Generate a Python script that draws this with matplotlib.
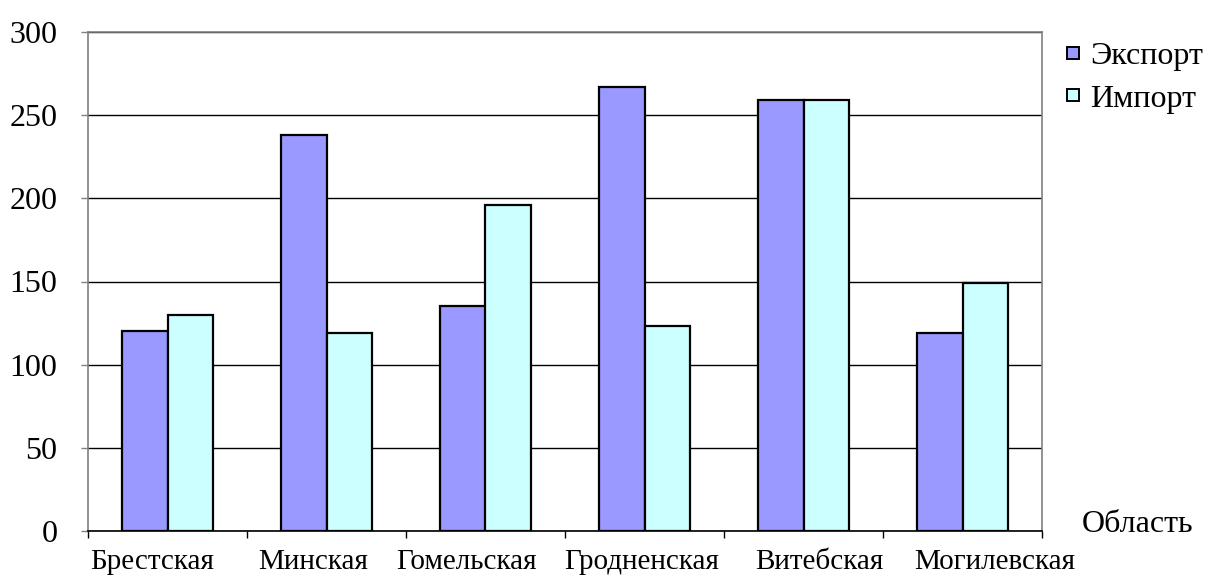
import matplotlib
matplotlib.use("Agg")
import matplotlib.pyplot as plt
import matplotlib.transforms as mtransforms
from matplotlib.lines import Line2D
import numpy as np

categories = ["Брестская", "Минская", "Гомельская", "Гродненская", "Витебская", "Могилевская"]
export_vals = [120, 238, 135, 267, 259, 119]
import_vals = [130, 119, 196, 123, 259, 149]
series_names = ["Экспорт", "Импорт"]
y_ticks = [0, 50, 100, 150, 200, 250, 300]
axis_title = "Область"

plt.rcParams['font.family'] = ['Liberation Serif', 'DejaVu Serif']

W, H = 1206, 578
fig = plt.figure(figsize=(W / 100, H / 100), dpi=100)
ax = fig.add_axes([88 / W, 1 - 531 / H, (1042 - 88) / W, (531 - 32) / H])

exp_color = "#9999FF"
imp_color = "#CCFFFF"
x = np.arange(len(categories))
bw = 0.286
ax.bar(x - bw / 2, export_vals, width=bw, color=exp_color, edgecolor="black", linewidth=1.6, zorder=3)
ax.bar(x + bw / 2, import_vals, width=bw, color=imp_color, edgecolor="black", linewidth=1.6, zorder=3)

ax.set_xlim(-0.5, len(categories) - 0.5)
ax.set_ylim(0, 300)
ax.set_yticks(y_ticks)
ax.set_yticklabels([str(v) for v in y_ticks])
ax.yaxis.grid(True, color="black", linewidth=1.0, zorder=0)
ax.set_axisbelow(True)

for s in ["left", "right", "top"]:
    ax.spines[s].set_color("#808080")
    ax.spines[s].set_linewidth(1.2)
ax.spines["bottom"].set_color("black")
ax.spines["bottom"].set_linewidth(1.2)

ax.tick_params(axis="y", direction="out", length=5, width=1, color="#808080",
               labelsize=23, pad=17)
# x: tick marks at category boundaries, labels at centres
ax.set_xticks(np.arange(-0.5, len(categories), 1.0))
ax.set_xticklabels([])
ax.set_xticks(x, minor=True)
ax.set_xticklabels(categories, minor=True)
ax.tick_params(axis="x", which="major", direction="out", length=5, width=1, color="black")
ax.tick_params(axis="x", which="minor", length=0, labelsize=21, pad=13)

# horizontal label offsets (px) as seen in the reference
offsets_px = [-15, -13, -19, -3, 16, 32]
for lab, dx in zip(ax.xaxis.get_minorticklabels(), offsets_px):
    lab.set_transform(lab.get_transform() + mtransforms.ScaledTranslation(dx / 100, 0, fig.dpi_scale_trans))

handles = [Line2D([], [], linestyle="none", marker="s", markersize=9, markerfacecolor=exp_color,
                  markeredgecolor="black", markeredgewidth=1.4),
           Line2D([], [], linestyle="none", marker="s", markersize=9, markerfacecolor=imp_color,
                  markeredgecolor="black", markeredgewidth=1.4)]
fig.legend(handles, series_names, loc="upper left", bbox_to_anchor=(1063 / W, 1 - 42 / H),
           frameon=False, fontsize=23, handlelength=0.6, handletextpad=0.25,
           labelspacing=0.4, borderpad=0, borderaxespad=0)

fig.text(1082 / W, 1 - 525 / H, axis_title, fontsize=23, ha="left", va="center")

fig.savefig("out.png", dpi=100)
